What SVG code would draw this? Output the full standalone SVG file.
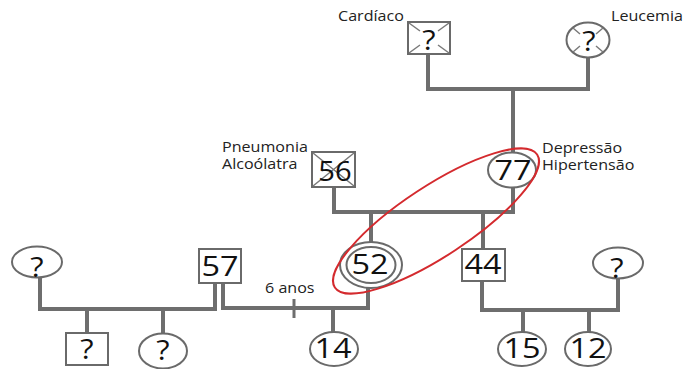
<svg xmlns="http://www.w3.org/2000/svg" width="686" height="369" viewBox="0 0 686 369">
  <style>
    .link { fill: none; stroke: #6e6e6e; stroke-width: 4; }
    .tick { fill: none; stroke: #6e6e6e; stroke-width: 3; }
    .shape { fill: #ffffff; stroke: #6a6a6a; stroke-width: 2; }
    .cross { fill: none; stroke: #7a7a7a; stroke-width: 1.5; }
    .num { font-family: "Open Sans", "DejaVu Sans", sans-serif; font-size: 27px; fill: #111111; text-anchor: middle; }
    .q { font-family: "Open Sans", "DejaVu Sans", sans-serif; font-size: 28px; fill: #111111; text-anchor: middle; }
    .label { font-family: "Open Sans", "DejaVu Sans", sans-serif; font-size: 14px; fill: #222222; }
    .mark { fill: none; stroke: #d42a2e; stroke-width: 2; }
  </style>
  <rect width="686" height="369" fill="#ffffff"/>

  <g id="connectors">
    <path class="link" d="M428 54 V89 H588 V57"/>
    <path class="link" d="M513 89 V153"/>
    <path class="link" d="M334 187 V212 H513 V187"/>
    <path class="link" d="M371 212 V242"/>
    <path class="link" d="M483 212 V249"/>
    <path class="link" d="M368 288 V308 H223 V283"/>
    <path class="link" d="M215 283 V309 H40 V277"/>
    <path class="link" d="M87 309 V333"/>
    <path class="link" d="M163 309 V333"/>
    <path class="link" d="M333 308 V332"/>
    <path class="link" d="M482 281 V310 H618 V278"/>
    <path class="link" d="M523 310 V332"/>
    <path class="link" d="M589 310 V332"/>
    <path class="tick" d="M294 299 V318"/>
  </g>

  <g id="node-cardiaco">
    <rect class="shape" x="408" y="22" width="42" height="32"/>
    <path class="cross" d="M409 23 L420 31 M449 23 L438 31 M409 53 L420 45 M449 53 L438 45"/>
    <text class="q" transform="translate(429 50) scale(1.1 1)">?</text>
    <text class="label" transform="translate(338 21) scale(1.15 1)">Cardíaco</text>
  </g>

  <g id="node-leucemia">
    <ellipse class="shape" cx="588" cy="40" rx="21.5" ry="17.5"/>
    <path class="cross" d="M573 28 L580 34 M603 28 L596 34 M573 52 L580 46 M603 52 L596 46"/>
    <text class="q" transform="translate(589 51) scale(1.1 1)">?</text>
    <text class="label" transform="translate(611 21) scale(1.15 1)">Leucemia</text>
  </g>

  <g id="node-56">
    <rect class="shape" x="312" y="152" width="43" height="35"/>
    <path class="cross" d="M313 153 L354 186 M354 153 L313 186"/>
    <text class="num" font-size="30" transform="translate(335 181) scale(1.08 1)">56</text>
    <text class="label" transform="translate(222 152) scale(1.15 1)">Pneumonia</text>
    <text class="label" transform="translate(222 169) scale(1.15 1)">Alcoólatra</text>
  </g>

  <g id="node-77">
    <ellipse class="shape" cx="512" cy="170" rx="24" ry="17.5"/>
    <text class="num" transform="translate(513 179.5) scale(1.2 1)">77</text>
    <text class="label" transform="translate(542 153) scale(1.15 1)">Depressão</text>
    <text class="label" transform="translate(542 170) scale(1.15 1)">Hipertensão</text>
  </g>

  <g id="node-52">
    <ellipse class="shape" cx="371" cy="265" rx="31" ry="23"/>
    <ellipse class="shape" cx="371" cy="265" rx="24.5" ry="18"/>
    <text class="num" transform="translate(370 274) scale(1.2 1)">52</text>
  </g>

  <g id="node-44">
    <rect class="shape" x="462" y="249" width="43" height="32"/>
    <text class="num" transform="translate(483 274) scale(1.2 1)">44</text>
  </g>

  <g id="node-57">
    <rect class="shape" x="199" y="249" width="42" height="34"/>
    <text class="num" transform="translate(220 275.5) scale(1.2 1)">57</text>
  </g>

  <g id="node-left-partner">
    <ellipse class="shape" cx="37" cy="262" rx="25" ry="15.5"/>
    <text class="q" transform="translate(37 276.5) scale(1.1 1)">?</text>
  </g>

  <g id="node-right-partner">
    <ellipse class="shape" cx="618" cy="263" rx="25" ry="15.5"/>
    <text class="q" transform="translate(617 277.5) scale(1.1 1)">?</text>
  </g>

  <g id="node-son-unknown">
    <rect class="shape" x="66" y="333" width="42" height="32"/>
    <text class="q" transform="translate(87 358.5) scale(1.1 1)">?</text>
  </g>

  <g id="node-daughter-unknown">
    <ellipse class="shape" cx="163" cy="351" rx="24" ry="17.5"/>
    <text class="q" transform="translate(163 359.5) scale(1.1 1)">?</text>
  </g>

  <g id="node-14">
    <ellipse class="shape" cx="334" cy="349" rx="24" ry="17"/>
    <text class="num" transform="translate(333 358) scale(1.2 1)">14</text>
  </g>

  <g id="node-15">
    <ellipse class="shape" cx="522" cy="349" rx="24" ry="17"/>
    <text class="num" transform="translate(522 358) scale(1.2 1)">15</text>
  </g>

  <g id="node-12">
    <ellipse class="shape" cx="588" cy="349" rx="23" ry="17"/>
    <text class="num" transform="translate(588 358) scale(1.2 1)">12</text>
  </g>

  <g id="label-6-anos">
    <text class="label" transform="translate(265 293) scale(1.15 1)">6 anos</text>
  </g>

  <g id="highlight">
    <ellipse class="mark" cx="436" cy="221" rx="121" ry="35" transform="rotate(-33.3 436 221)"/>
  </g>
</svg>
